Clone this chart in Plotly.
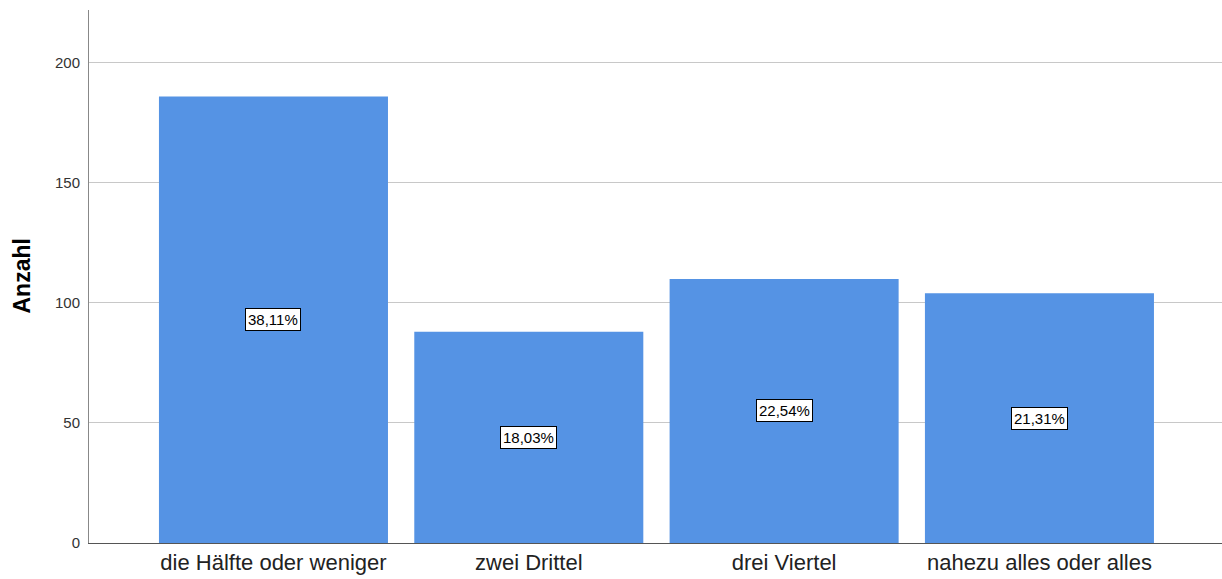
import plotly.graph_objects as go

categories = ["die Hälfte oder weniger", "zwei Drittel", "drei Viertel", "nahezu alles oder alles"]
counts = [186, 88, 110, 104]
percent_labels = ["38,11%", "18,03%", "22,54%", "21,31%"]
y_ticks = [0, 50, 100, 150, 200]

xpos = list(range(len(categories)))

fig = go.Figure()
fig.add_trace(go.Bar(
    x=xpos, y=counts, width=0.897,
    marker=dict(color="#5593E4", line=dict(width=0)),
    hoverinfo="skip",
))

for xi, c, lab in zip(xpos, counts, percent_labels):
    fig.add_annotation(
        x=xi, y=c / 2, text=lab, showarrow=False,
        font=dict(family="Liberation Sans, Arial", size=15, color="#000000"),
        bgcolor="#FFFFFF", bordercolor="#000000", borderwidth=1, borderpad=2,
    )

fig.add_annotation(
    xref="paper", yref="paper", x=(21 - 89) / 1133, y=0.5,
    text="<b>Anzahl</b>", textangle=-90, showarrow=False,
    xanchor="center", yanchor="middle",
    font=dict(family="Liberation Sans, Arial", size=23, color="#000000"),
)

fig.update_layout(
    width=1222, height=579,
    margin=dict(l=89, r=0, t=10, b=36),
    paper_bgcolor="#FFFFFF", plot_bgcolor="#FFFFFF",
    showlegend=False,
    font=dict(family="Liberation Sans, Arial", color="#222222"),
    xaxis=dict(
        range=[-0.7225, 3.715],
        tickvals=xpos, ticktext=categories,
        tickfont=dict(size=22, color="#222222"),
        showgrid=False, zeroline=False,
        showline=True, linecolor="#555555", linewidth=1,
        ticks="", ticklen=0,
    ),
    yaxis=dict(
        range=[0, 222],
        tickvals=y_ticks,
        tickfont=dict(size=15, color="#333333"),
        showgrid=True, gridcolor="#C8C8C8", gridwidth=1,
        zeroline=False,
        showline=True, linecolor="#888888", linewidth=1,
        ticks="outside", ticklen=5, tickcolor="rgba(0,0,0,0)",
    ),
)

fig.write_html("out.html")
